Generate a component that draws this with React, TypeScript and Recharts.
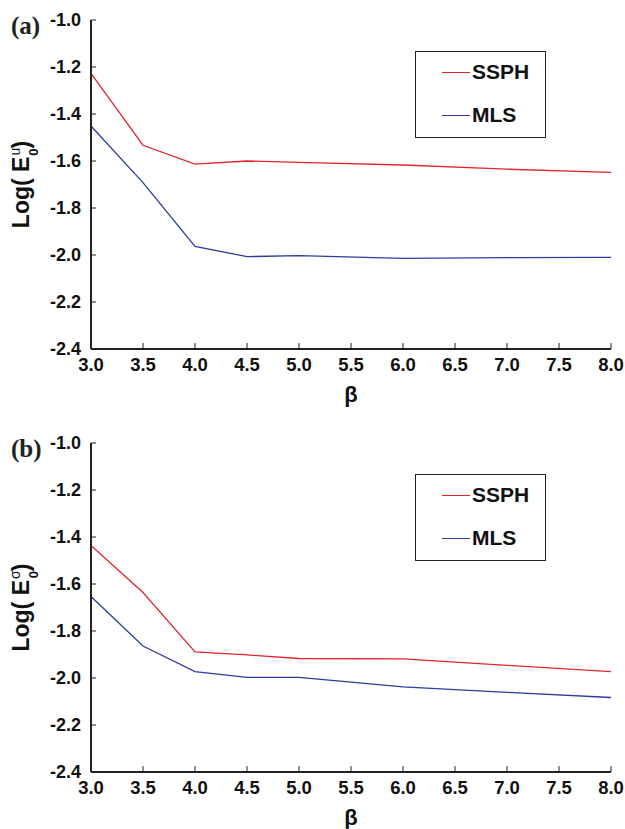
import { LineChart, Line, XAxis, YAxis, Legend } from 'recharts';

// beta values shared by both panels
const betas = [3.0, 3.5, 4.0, 4.5, 5.0, 6.0, 7.0, 8.0];

// panel (a): Log(E^u_0)
const ssphU = [-1.227, -1.533, -1.613, -1.600, -1.606, -1.617, -1.635, -1.648];
const mlsU = [-1.451, -1.692, -1.963, -2.007, -2.003, -2.014, -2.011, -2.010];

// panel (b): Log(E^sigma_0)
const ssphS = [-1.436, -1.636, -1.889, -1.902, -1.917, -1.919, -1.946, -1.973];
const mlsS = [-1.653, -1.864, -1.973, -1.997, -1.997, -2.038, -2.061, -2.083];

const seriesNames = ['SSPH', 'MLS'];
const xTicks = [3.0, 3.5, 4.0, 4.5, 5.0, 5.5, 6.0, 6.5, 7.0, 7.5, 8.0];
const yTicks = [-2.4, -2.2, -2.0, -1.8, -1.6, -1.4, -1.2, -1.0];

const RED = '#e3262b';
const BLUE = '#2b3c9c';
const FONT = '"Liberation Sans", Arial, sans-serif';

const buildRows = (ssph: number[], mls: number[]) =>
  betas.map((b, i) => ({ beta: b, SSPH: ssph[i], MLS: mls[i] }));

const YLabel = (props: any) => {
  const { viewBox, sup } = props;
  const cx = 29;
  const cy = viewBox.y + viewBox.height / 2;
  return (
    <text
      x={cx}
      y={cy}
      transform={`rotate(-90, ${cx}, ${cy})`}
      textAnchor="middle"
      fontFamily={FONT}
      fontWeight="bold"
      fontSize={23}
      fill="#111"
    >
      Log( E
      <tspan dx={1} dy={-9} fontSize={14} fontWeight="normal">{sup}</tspan>
      <tspan dx={-8} dy={18} fontSize={13}>0</tspan>
      <tspan dy={-9}>)</tspan>
    </text>
  );
};

const LegendBox = (props: any) => {
  const payload = [...(props.payload || [])].sort(
    (a: any, b: any) => seriesNames.indexOf(a.value) - seriesNames.indexOf(b.value)
  );
  return (
    <div
      style={{
        width: 131,
        height: 87,
        border: '1px solid #222',
        boxSizing: 'border-box',
        background: '#fff',
        paddingTop: 7,
      }}
    >
      {payload.map((p: any) => (
        <div key={p.value} style={{ display: 'flex', alignItems: 'center', height: 26, marginBottom: 17 }}>
          <div style={{ marginLeft: 26, width: 28, height: 0, borderTop: `1.3px solid ${p.color}` }} />
          <span style={{ marginLeft: 2, fontFamily: FONT, fontWeight: 'bold', fontSize: 21, color: '#111' }}>
            {p.value}
          </span>
        </div>
      ))}
    </div>
  );
};

interface PanelProps {
  ssph: number[];
  mls: number[];
  sup: string;
  tag: string;
  height: number;
  top: number;
  bottom: number;
}

function Panel({ ssph, mls, sup, tag, height, top, bottom }: PanelProps) {
  const data = buildRows(ssph, mls);
  return (
    <div style={{ position: 'relative', width: 625, height }}>
      <div
        style={{
          position: 'absolute',
          left: 11,
          top: top - 9,
          fontFamily: '"Liberation Serif", "Times New Roman", serif',
          fontWeight: 'bold',
          fontSize: 25,
          color: '#222',
          lineHeight: '30px',
        }}
      >
        {tag}
      </div>
      <LineChart width={625} height={height} data={data} margin={{ top, right: 14, left: 0, bottom }}>
        <XAxis
          dataKey="beta"
          type="number"
          domain={[3, 8]}
          ticks={xTicks}
          tickFormatter={(v: number) => v.toFixed(1)}
          tickSize={-6}
          tickMargin={15}
          height={57}
          axisLine={{ stroke: '#222', strokeWidth: 2 }}
          tickLine={{ stroke: '#222', strokeWidth: 1 }}
          tick={{ fill: '#111', fontSize: 18.5, fontWeight: 'bold', fontFamily: FONT }}
          label={{ value: 'β', position: 'insideBottom', offset: 4, fill: '#111', fontSize: 22, fontWeight: 'bold', fontFamily: FONT }}
        />
        <XAxis xAxisId="top" orientation="top" type="number" domain={[3, 8]} height={0} tick={false} tickLine={false} axisLine={{ stroke: '#444', strokeWidth: 1.2 }} />
        <YAxis
          type="number"
          domain={[-2.4, -1.0]}
          ticks={yTicks}
          tickFormatter={(v: number) => v.toFixed(1)}
          tickSize={-5}
          tickMargin={15}
          width={91}
          axisLine={{ stroke: '#222', strokeWidth: 2 }}
          tickLine={{ stroke: '#222', strokeWidth: 1 }}
          tick={{ fill: '#111', fontSize: 18, fontWeight: 'bold', fontFamily: FONT }}
          label={<YLabel sup={sup} />}
        />
        <YAxis yAxisId="right" orientation="right" type="number" domain={[-2.4, -1.0]} width={0} tick={false} tickLine={false} axisLine={{ stroke: '#444', strokeWidth: 1.2 }} />
        <Legend
          layout="horizontal"
          verticalAlign="middle"
          align="center"
          content={<LegendBox />}
          wrapperStyle={{ position: 'absolute', left: 415, top: top + 31, width: 131, height: 87 }}
        />
        <Line dataKey="SSPH" stroke={RED} strokeWidth={1.3} dot={false} isAnimationActive={false} />
        <Line dataKey="MLS" stroke={BLUE} strokeWidth={1.3} dot={false} isAnimationActive={false} />
      </LineChart>
    </div>
  );
}

export default function App() {
  return (
    <div style={{ position: 'absolute', left: 0, top: 0, width: 625, height: 829, background: '#fff' }}>
      <Panel ssph={ssphU} mls={mlsU} sup="u" tag="(a)" height={420} top={20} bottom={14} />
      <Panel ssph={ssphS} mls={mlsS} sup="σ" tag="(b)" height={409} top={23} bottom={0} />
    </div>
  );
}
